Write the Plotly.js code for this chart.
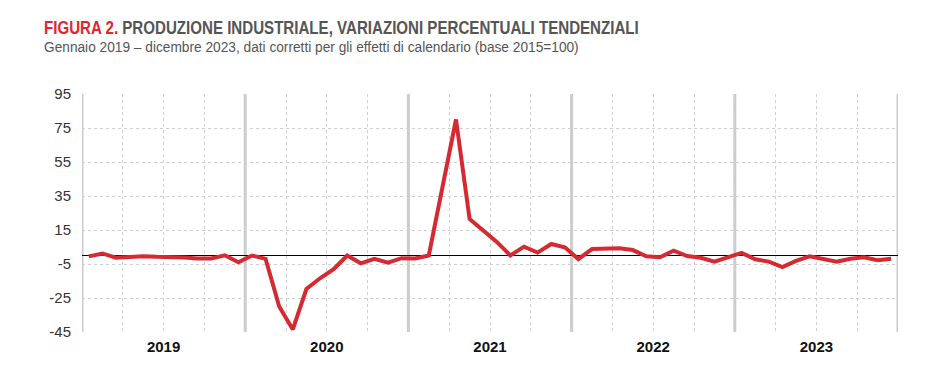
<!DOCTYPE html>
<html>
<head>
<meta charset="utf-8">
<script src="https://cdn.plot.ly/plotly-3.0.1.min.js"></script>
<style>
html,body{margin:0;padding:0;background:#fff;}
#chart{width:940px;height:391px;}
</style>
</head>
<body>
<div id="chart"></div>
<script>
// Monthly data, Jan 2019 - Dec 2023
const years = ["2019", "2020", "2021", "2022", "2023"];
const monthIndex = [
  0,1,2,3,4,5,6,7,8,9,10,11,
  12,13,14,15,16,17,18,19,20,21,22,23,
  24,25,26,27,28,29,30,31,32,33,34,35,
  36,37,38,39,40,41,42,43,44,45,46,47,
  48,49,50,51,52,53,54,55,56,57,58,59
];
const values2019 = [-0.5, 1.2, -1.3, -1.0, -0.4, -0.8, -0.8, -1.2, -1.8, -1.8, 0.1, -4.0];
const values2020 = [0.0, -2.0, -30.0, -43.5, -19.7, -13.4, -8.1, 0.0, -4.6, -2.0, -4.2, -1.6];
const values2021 = [-1.7, 0.0, 40.0, 80.0, 21.5, 15.0, 8.0, 0.0, 5.2, 1.7, 6.8, 4.8];
const values2022 = [-2.1, 3.8, 3.8, 4.2, 3.2, -0.5, -1.0, 2.8, -0.3, -1.3, -3.6, -0.9];
const values2023 = [1.5, -2.2, -3.6, -6.8, -3.2, -0.5, -1.9, -3.6, -1.9, -1.1, -2.8, -1.9];
const yTicks = [-45, -25, -5, 15, 35, 55, 75, 95];

const values = [].concat(values2019, values2020, values2021, values2022, values2023);
const xs = monthIndex.map(m => m + 0.5);
const yearCenters = years.map((y, i) => i * 12 + 6);
const yearBounds = [0, 12, 24, 36, 48, 60];

const FONT = '"Liberation Sans Narrow", "Arial Narrow", "Liberation Sans", Arial, sans-serif';

const trace = {
  x: xs, y: values, type: 'scatter', mode: 'lines',
  line: {color: '#d62a33', width: 4},
  hoverinfo: 'skip'
};

const shapes = yearBounds.map(b => ({
  type: 'line', xref: 'x', yref: 'paper', x0: b, x1: b, y0: 0, y1: 1,
  line: {color: '#cccccc', width: 3}, layer: 'below'
}));

const layout = {
  width: 940, height: 391,
  margin: {l: 82, r: 42, t: 94, b: 59},
  paper_bgcolor: '#fff', plot_bgcolor: '#fff',
  showlegend: false,
  font: {family: FONT, color: '#222'},
  xaxis: {
    range: [0, 60], showline: false, zeroline: false,
    tickvals: yearCenters, ticktext: years, ticks: '',
    tickfont: {family: FONT, size: 15, color: '#111', weight: 'bold'},
    ticklabelstandoff: 4,
    showgrid: false,
    minor: {tick0: 0, dtick: 3, showgrid: true, gridcolor: '#cfcfcf', griddash: 'dot', gridwidth: 1, ticks: ''}
  },
  yaxis: {
    range: [-45, 95], tickvals: yTicks, ticktext: yTicks.map(String),
    showgrid: true, gridcolor: '#cfcfcf', griddash: 'dot', gridwidth: 1,
    zeroline: true, zerolinecolor: '#000', zerolinewidth: 1.5,
    showline: false, ticks: '',
    tickfont: {family: FONT, size: 15, color: '#333'}, ticklabelstandoff: 10
  },
  shapes: shapes,
  annotations: [
    {xref: 'paper', yref: 'paper', x: -40/816, y: 1 + (94-40)/238, xanchor: 'left', yanchor: 'bottom',
     showarrow: false, align: 'left',
     text: '<b><span style="color:#e3262c">FIGURA 2.</span> PRODUZIONE INDUSTRIALE, VARIAZIONI PERCENTUALI TENDENZIALI</b>',
     font: {family: FONT, size: 18, color: '#555'}},
    {xref: 'paper', yref: 'paper', x: -40/816, y: 1 + (94-57)/238, xanchor: 'left', yanchor: 'bottom',
     showarrow: false, align: 'left',
     text: 'Gennaio 2019 – dicembre 2023, dati corretti per gli effetti di calendario (base 2015=100)',
     font: {family: FONT, size: 15, color: '#555'}}
  ]
};

// Target text widths (condensed look of the original typeface)
const targetWidths = [595, 535];

Plotly.newPlot('chart', [trace], layout, {displayModeBar: false, staticPlot: true}).then(() => {
  const texts = document.querySelectorAll('#chart .annotation-text');
  texts.forEach((t, i) => {
    const bb = t.getBBox();
    if (!bb.width) return;
    const s = targetWidths[i] / bb.width;
    if (s >= 1) return;
    t.setAttribute('transform', `translate(${bb.x * (1 - s)},0) scale(${s},1)`);
  });
});
</script>
</body>
</html>
